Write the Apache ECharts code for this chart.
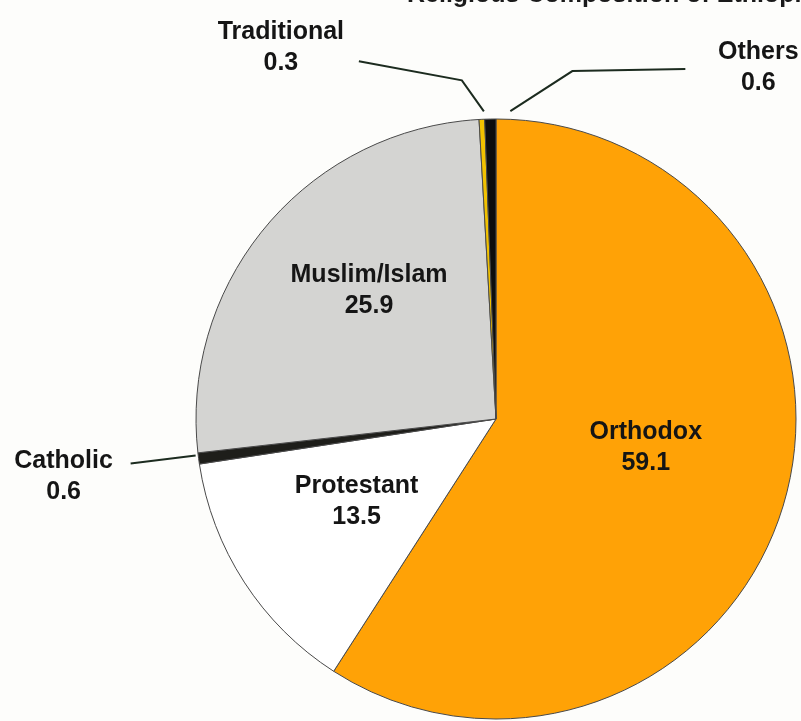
<!DOCTYPE html>
<html>
<head>
<meta charset="utf-8">
<script src="https://cdn.jsdelivr.net/npm/echarts@6/dist/echarts.min.js"></script>
<style>
  html, body { margin: 0; padding: 0; background: #fdfdfb; }
  #chart { width: 801px; height: 721px; }
</style>
</head>
<body>
<div id="chart"></div>
<script>
// religion shares, clockwise from 12 o'clock
const religions = ['Orthodox', 'Protestant', 'Catholic', 'Muslim/Islam', 'Traditional', 'Others'];
const shares = [59.1, 13.5, 0.6, 25.9, 0.3, 0.6];

const chart = echarts.init(document.getElementById('chart'));

const palette = ['#ffa206', '#ffffff', '#1e1e1a', '#d4d4d2', '#f2c200', '#0d0d0d'];

// small nudges for the inside labels
const insideNudge = {
    'Orthodox': [3, -15],
    'Muslim/Islam': [-10, -30],
    'Protestant': [-11, -1]
};

const seriesData = religions.map((name, i) => {
    const small = shares[i] < 1;
    return {
        name: name,
        value: shares[i],
        itemStyle: { color: palette[i] },
        label: { position: small ? 'outside' : 'inside' },
        labelLine: { show: small }
    };
});

const option = {
    backgroundColor: '#fdfdfb',
    title: {
        text: 'Religious Composition of Ethiopia',
        left: 402,
        top: -22,
        textStyle: {
            fontFamily: 'Liberation Sans, Arial, sans-serif',
            fontWeight: 'bold',
            fontSize: 25,
            color: '#1a1a1a'
        }
    },
    series: [
        {
            type: 'pie',
            center: [496, 419],
            radius: 300,
            startAngle: 90,
            clockwise: true,
            avoidLabelOverlap: false,
            animation: false,
            itemStyle: {
                borderColor: '#4a4a4a',
                borderWidth: 1
            },
            label: {
                formatter: '{b}\n{c}',
                fontFamily: 'Liberation Sans, Arial, sans-serif',
                fontWeight: 'bold',
                fontSize: 25,
                lineHeight: 31,
                color: '#151515',
                align: 'center'
            },
            labelLine: {
                length: 40,
                length2: 100,
                lineStyle: { color: '#1c2b1f', width: 2 }
            },
            labelLayout: function (params) {
                const name = religions[params.dataIndex];
                if (insideNudge[name]) {
                    return { dx: insideNudge[name][0], dy: insideNudge[name][1] };
                }
                const pts = params.labelLinePoints;
                if (!pts) return {};
                const p0 = pts[0];
                if (name === 'Others') {
                    // elbow goes to the right-hand side
                    const q0 = [p0[0] + 20, p0[1] - 8];
                    const q1 = [q0[0] + 62, q0[1] - 40];
                    const q2 = [q1[0] + 113, q1[1] - 2];
                    return {
                        x: q2[0] + 73,
                        y: q2[1] - 1,
                        align: 'center',
                        labelLinePoints: [q0, q1, q2]
                    };
                }
                if (name === 'Traditional') {
                    const q0 = [p0[0] + 2, p0[1] - 8];
                    const q1 = [q0[0] - 22, q0[1] - 31];
                    const q2 = [q1[0] - 103, q1[1] - 19];
                    return {
                        x: q2[0] - 78,
                        y: q2[1] - 14,
                        align: 'center',
                        labelLinePoints: [q0, q1, q2]
                    };
                }
                if (name === 'Catholic') {
                    const q0 = [p0[0] - 3, p0[1] - 3];
                    const q2 = [q0[0] - 65, q0[1] + 8];
                    const q1 = [(q0[0] + q2[0]) / 2, (q0[1] + q2[1]) / 2];
                    return {
                        x: q2[0] - 67,
                        y: q2[1] + 13,
                        align: 'center',
                        labelLinePoints: [q0, q1, q2]
                    };
                }
                return {};
            },
            data: seriesData
        }
    ]
};

chart.setOption(option);
</script>
</body>
</html>
